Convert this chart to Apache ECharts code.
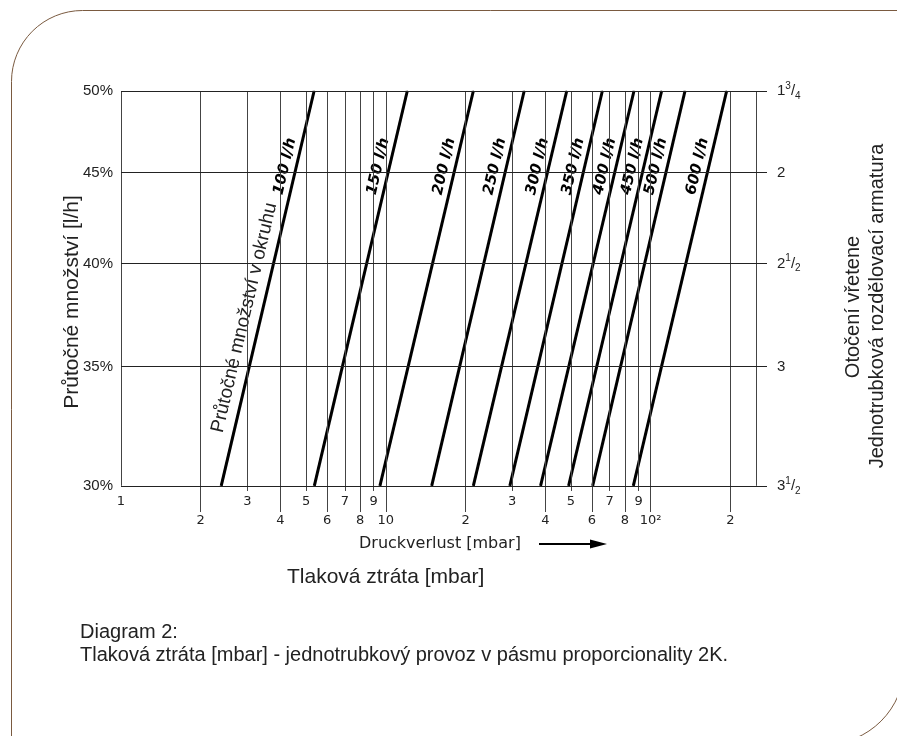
<!DOCTYPE html>
<html>
<head>
<meta charset="utf-8">
<script src="https://cdn.jsdelivr.net/npm/echarts@6/dist/echarts.min.js"></script>
<style>
  html, body { margin: 0; background: #fff; }
  #chart { width: 897px; height: 736px; }
</style>
</head>
<body>
<div id="chart"></div>
<script>
// flow lines: pressure loss [mbar] read at 30 % and at 50 %
const flowNames = ['100 l/h', '150 l/h', '200 l/h', '250 l/h', '300 l/h', '350 l/h', '400 l/h', '450 l/h', '500 l/h', '600 l/h']
const lossAt30 = [2.39, 5.37, 9.5, 14.9, 21.4, 29.4, 38.4, 49, 60.4, 86]
const lossAt50 = [5.36, 12.05, 21.4, 33.3, 48.2, 65.7, 86.5, 110, 134.8, 193.6]

// left / right axis
const yTicks = [50, 45, 40, 35, 30]
const yLabels = ['50%', '45%', '40%', '35%', '30%']
const turnLabels = ['{n|1}{sup|3}{n|/}{sub|4}', '{n|2}', '{n|2}{sup|1}{n|/}{sub|2}', '{n|3}', '{n|3}{sup|1}{n|/}{sub|2}']

// bottom axis, two label rows
const xTicksUpper = [1, 3, 5, 7, 9, 30, 50, 70, 90]
const xLabelsUpper = ['1', '3', '5', '7', '9', '3', '5', '7', '9']
const xTicksLower = [2, 4, 6, 8, 10, 20, 40, 60, 80, 100, 200]
const xLabelsLower = ['2', '4', '6', '8', '10', '2', '4', '6', '8', '10²', '2']
const xGridOnly = [250]

const X_MIN = 1, X_MAX = 275
const Y_MIN = 29, Y_MAX = 50, Y_SHORT = 29.8

const ANGLE = 76.75
const tickFont = 'DejaVu Sans'
const textFont = 'Liberation Sans'

const gridStyle = { color: '#444', width: 1, type: 'solid' }

const vLines = []
xTicksUpper.forEach((v, i) => {
  const first = v === 1
  vLines.push([
    { coord: [v, first ? 30 : Y_SHORT], label: { show: true, position: 'start', distance: first ? 9 : 4, formatter: xLabelsUpper[i] } },
    { coord: [v, Y_MAX] }
  ])
})
xTicksLower.forEach((v, i) => {
  vLines.push([
    { coord: [v, Y_MIN], label: { show: true, position: 'start', distance: 2, formatter: xLabelsLower[i] } },
    { coord: [v, Y_MAX] }
  ])
})
xGridOnly.forEach(v => {
  vLines.push([{ coord: [v, 30] }, { coord: [v, Y_MAX] }])
})

const hLines = []
yTicks.forEach((v, i) => {
  hLines.push({
    yAxis: v,
    lineStyle: { color: '#222', width: 1 },
    label: { show: true, position: 'start', distance: 8, formatter: yLabels[i], fontFamily: textFont, fontSize: 15, color: '#222' }
  })
  hLines.push({
    yAxis: v,
    lineStyle: { color: 'rgba(0,0,0,0)', width: 1 },
    label: {
      show: true, position: 'end', distance: 10, formatter: turnLabels[i], opacity: 1,
      rich: {
        n: { fontFamily: textFont, fontSize: 15, color: '#222', lineHeight: 20 },
        sup: { fontFamily: textFont, fontSize: 10, color: '#222', verticalAlign: 'top', lineHeight: 11 },
        sub: { fontFamily: textFont, fontSize: 10, color: '#222', verticalAlign: 'bottom', lineHeight: 11 }
      }
    }
  })
})

const circuitLabel = {
  show: true,
  formatter: 'Průtočné množství v okruhu',
  offset: [169, -16],
  fontFamily: textFont,
  fontSize: 19,
  fontWeight: 'normal',
  fontStyle: 'normal',
  color: '#222',
  padding: [1, 4]
}

const flowSeries = flowNames.map((name, i) => ({
  type: 'line',
  name: name,
  z: 3,
  silent: true,
  animation: false,
  symbol: 'circle',
  symbolSize: 1,
  showSymbol: true,
  lineStyle: { color: '#000', width: 3 },
  itemStyle: { color: '#000' },
  label: {
    show: false,
    position: 'inside',
    rotate: ANGLE,
    offset: [-80, -11],
    fontFamily: tickFont,
    fontSize: 15,
    fontWeight: 'bold',
    fontStyle: 'italic',
    color: '#000',
    backgroundColor: '#fff',
    padding: [0, 2]
  },
  data: [
    { value: [lossAt30[i], 30], label: i === 0 ? circuitLabel : { show: false } },
    { value: [lossAt50[i], 50], label: { show: true, formatter: name } }
  ]
}))

const option = {
  backgroundColor: '#fff',
  animation: false,
  grid: { left: 121, right: 130, top: 91, bottom: 224 },
  xAxis: { type: 'log', min: X_MIN, max: X_MAX, show: false },
  yAxis: { type: 'log', min: Y_MIN, max: Y_MAX, show: false },
  series: [
    {
      type: 'line',
      z: 1,
      silent: true,
      data: [],
      markLine: {
        silent: true,
        animation: false,
        symbol: ['none', 'none'],
        lineStyle: gridStyle,
        label: { fontFamily: tickFont, fontSize: 13, color: '#222' },
        emphasis: { disabled: true },
        data: vLines.concat(hLines)
      }
    }
  ].concat(flowSeries),
  graphic: [
    {
      type: 'rect',
      silent: true,
      shape: { x: 11.5, y: 10.5, width: 893, height: 734, r: [71, 0, 80, 0] },
      style: { fill: 'none', stroke: '#7a5a40', lineWidth: 1 }
    },
    {
      type: 'text', x: 72, y: 302, rotation: Math.PI / 2, silent: true,
      style: { text: 'Průtočné množství [l/h]', font: '21px "Liberation Sans"', fill: '#222', align: 'center', verticalAlign: 'middle' }
    },
    {
      type: 'text', x: 853, y: 307, rotation: Math.PI / 2, silent: true,
      style: { text: 'Otočení vřetene', font: '20px "Liberation Sans"', fill: '#222', align: 'center', verticalAlign: 'middle' }
    },
    {
      type: 'text', x: 877, y: 306, rotation: Math.PI / 2, silent: true,
      style: { text: 'Jednotrubková rozdělovací armatura', font: '20px "Liberation Sans"', fill: '#222', align: 'center', verticalAlign: 'middle' }
    },
    {
      type: 'text', x: 359, y: 544, silent: true,
      style: { text: 'Druckverlust [mbar]', font: '16px "DejaVu Sans"', fill: '#222', align: 'left', verticalAlign: 'middle' }
    },
    {
      type: 'line', silent: true,
      shape: { x1: 539, y1: 544, x2: 595, y2: 544 },
      style: { stroke: '#000', lineWidth: 2 }
    },
    {
      type: 'polygon', silent: true,
      shape: { points: [[590, 539.5], [607, 544], [590, 548.5]] },
      style: { fill: '#000' }
    },
    {
      type: 'text', x: 287, y: 577, silent: true,
      style: { text: 'Tlaková ztráta [mbar]', font: '21px "Liberation Sans"', fill: '#222', align: 'left', verticalAlign: 'middle' }
    },
    {
      type: 'text', x: 80, y: 632, silent: true,
      style: { text: 'Diagram 2:', font: '20px "Liberation Sans"', fill: '#222', align: 'left', verticalAlign: 'middle' }
    },
    {
      type: 'text', x: 80, y: 655, silent: true,
      style: { text: 'Tlaková ztráta [mbar] - jednotrubkový provoz v pásmu proporcionality 2K.', font: '20px "Liberation Sans"', fill: '#222', align: 'left', verticalAlign: 'middle' }
    }
  ]
}

const chart = echarts.init(document.getElementById('chart'), null, { renderer: 'canvas' })
chart.setOption(option)

window.addEventListener('resize', () => chart.resize())
</script>
</body>
</html>
